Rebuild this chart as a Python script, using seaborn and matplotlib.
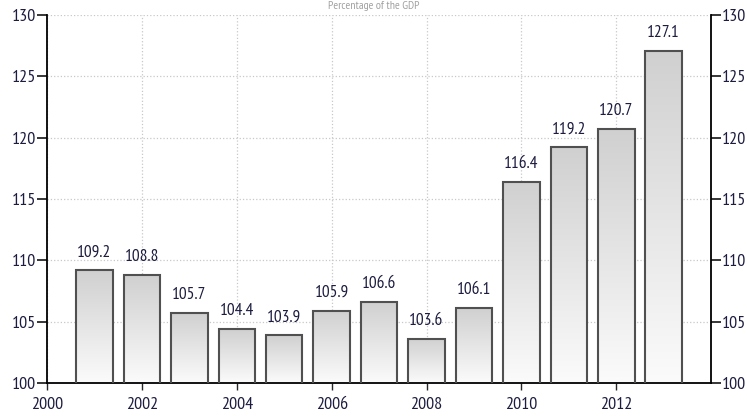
import numpy as np
import pandas as pd
import matplotlib
matplotlib.use('Agg')
import matplotlib.pyplot as plt
import seaborn as sns

years = [2001, 2002, 2003, 2004, 2005, 2006, 2007, 2008, 2009, 2010, 2011, 2012, 2013]
values = [109.2, 108.8, 105.7, 104.4, 103.9, 105.9, 106.6, 103.6, 106.1, 116.4, 119.2, 120.7, 127.1]
x_ticks = [2000, 2002, 2004, 2006, 2008, 2010, 2012]
y_ticks = [100, 105, 110, 115, 120, 125, 130]
title = "Percentage of the GDP"

sns.set_style("white")
plt.rcParams['font.family'] = ['PT Sans Narrow', 'DejaVu Sans']

df = pd.DataFrame({'year': years, 'value': values})

fig = plt.figure(figsize=(7.47, 4.18), dpi=100)
ax = fig.add_axes([0.063, 0.084, 0.889, 0.880])

sns.barplot(data=df, x='year', y='value', native_scale=True, width=0.77,
            color='#d6d6d6', edgecolor='#505050', linewidth=1.5, ax=ax, zorder=3)

# gradient fill inside each bar, darker at the top
cmap = matplotlib.colors.LinearSegmentedColormap.from_list('g', ['#fbfbfb', '#d0d0d0'])
grad = np.linspace(0, 1, 256).reshape(-1, 1)
for p in ax.patches:
    x0, w = p.get_x(), p.get_width()
    top = p.get_y() + p.get_height()
    ax.imshow(grad, cmap=cmap, extent=[x0, x0 + w, 100, top],
              origin='lower', aspect='auto', zorder=2.5)
    p.set_facecolor('none')
ax.set_xlim(2000, 2014)
ax.set_ylim(100, 130)
ax.set_aspect('auto')

for yr, v in zip(years, values):
    ax.text(yr, v + 0.8, f"{v}", ha='center', va='bottom', fontsize=12.5,
            color='#1c1c40', zorder=4)

ax.set_xticks(x_ticks)
ax.set_yticks(y_ticks)
ax.set_xticklabels([str(t) for t in x_ticks])
ax.set_xlabel('')
ax.set_ylabel('')
ax.grid(True, color='#c8c8c8', linestyle=':', linewidth=0.9, zorder=0)
ax.set_axisbelow(True)

for s in ['left', 'right', 'bottom']:
    ax.spines[s].set_visible(True)
    ax.spines[s].set_color('black')
    ax.spines[s].set_linewidth(1.3)
ax.spines['top'].set_visible(False)

ax.tick_params(axis='y', which='both', left=True, right=True, labelleft=True,
               labelright=True, direction='out', length=7, width=1.3,
               labelsize=13, labelcolor='#1c1c40', pad=1)
ax.tick_params(axis='x', bottom=True, direction='out', length=5, width=1,
               labelsize=13, labelcolor='#1c1c40', pad=5)

fig.text(0.5, 0.998, title, ha='center', va='top', fontsize=8.5, color='#a0a0a0')

fig.savefig('out.png', dpi=100)
